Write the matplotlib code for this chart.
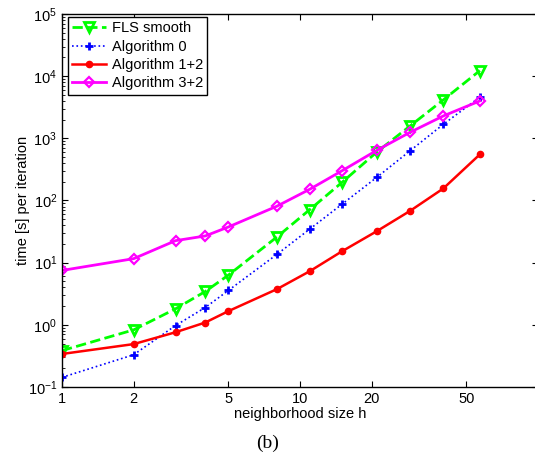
import matplotlib
matplotlib.use("Agg")
import matplotlib.pyplot as plt
from matplotlib.ticker import FixedLocator, FixedFormatter, NullLocator, LogLocator

plt.rcParams['font.family'] = ['Liberation Sans', 'DejaVu Sans']
plt.rcParams['mathtext.fontset'] = 'custom'
plt.rcParams['mathtext.rm'] = 'Liberation Sans'

# neighborhood sizes h
h = [1, 2, 3, 4, 5, 8, 11, 15, 21, 29, 40, 57]

# time [s] per iteration
fls_smooth = [0.385, 0.83, 1.81, 3.44, 6.3, 25.9, 71.6, 195, 600, 1580, 4150, 12300]
alg0 = [0.143, 0.33, 0.975, 1.9, 3.57, 13.6, 34.8, 87, 235, 630, 1680, 4600]
alg12 = [0.34, 0.49, 0.76, 1.09, 1.66, 3.75, 7.3, 15.2, 32, 68, 156, 552]
alg32 = [7.5, 11.6, 22.6, 26.9, 37.5, 81, 152, 300, 640, 1250, 2290, 4000]

xticks = [1, 2, 5, 10, 20, 50]
xticklabels = ["1", "2", "5", "10", "20", "50"]

fig = plt.figure(figsize=(5.35, 4.61), dpi=100)
ax = fig.add_axes([62/535, 74/461, 476/535, 373/461])

ax.plot(h, fls_smooth, '--v', color=(0, 1, 0), lw=2, ms=6.5, mfc='none', mew=2, label='FLS smooth')
ax.plot(h, alg0, ':+', color=(0, 0, 1), lw=1.2, ms=5.5, mew=2, label='Algorithm 0')
ax.plot(h, alg12, '-o', color=(1, 0, 0), lw=1.8, ms=4.5, label='Algorithm 1+2')
ax.plot(h, alg32, '-D', color=(1, 0, 1), lw=2, ms=5.5, mfc='none', mew=1.6, label='Algorithm 3+2')

ax.set_xscale('log')
ax.set_yscale('log')
ax.set_xlim(1, 100)
ax.set_ylim(0.1, 1e5)

ax.xaxis.set_major_locator(FixedLocator(xticks))
ax.xaxis.set_major_formatter(FixedFormatter(xticklabels))
ax.xaxis.set_minor_locator(NullLocator())
ax.yaxis.set_major_locator(LogLocator(base=10, numticks=10))
ax.yaxis.set_minor_locator(LogLocator(base=10, subs=range(2, 10), numticks=20))

ax.tick_params(which='both', direction='in', top=True, right=True, labelsize=10.5)
ax.tick_params(which='major', length=4)
ax.tick_params(which='minor', length=2)
for s in ax.spines.values():
	s.set_linewidth(1.0)

ax.set_xlabel('neighborhood size h', fontsize=10.5, labelpad=1)
ax.set_ylabel('time [s] per iteration', fontsize=10.5, labelpad=-2)

leg = ax.legend(loc='upper left', bbox_to_anchor=(6/476, 1 - 3/373), borderaxespad=0,
	fontsize=10.5, fancybox=False, framealpha=1, edgecolor='black',
	handlelength=2.3, handletextpad=0.4, labelspacing=0.3, borderpad=0.3)
leg.get_frame().set_linewidth(1.0)

fig.text(0.5, 0.039, '(b)', family='Liberation Serif', fontsize=14, ha='center', va='center')

fig.savefig('out.png', dpi=100)
